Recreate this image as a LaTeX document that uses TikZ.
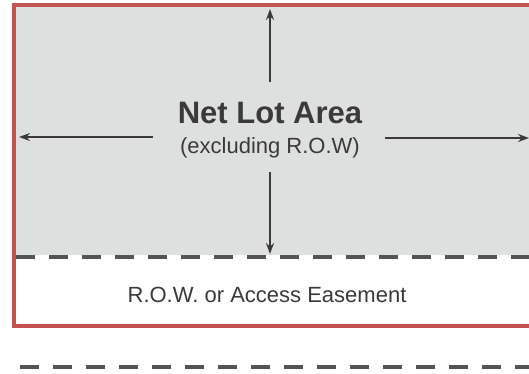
\documentclass[tikz,border=0pt]{standalone}
\usepackage{fontspec}
\setmainfont{Liberation Sans}
\usepackage{xcolor}
\usetikzlibrary{positioning, arrows.meta}

\definecolor{lotred}{RGB}{196,82,78}
\definecolor{lotgray}{RGB}{222,224,224}
\definecolor{inkgray}{RGB}{58,58,58}
\definecolor{dashgray}{RGB}{84,84,84}

\begin{document}
\begin{tikzpicture}[
x=1pt, y=-1pt,
every node/.style={align=center, text=inkgray, inner sep=0pt},
lot/.style={draw=lotred, line width=3.2pt, fill=white},
area/.style={fill=lotgray, draw=none},
edge/.style={dashgray, line width=4.5pt, dash pattern=on 19pt off 14pt},
arrow/.style={-{Stealth[length=11pt, width=8pt]}, line width=1.4pt, draw=inkgray}
]
\useasboundingbox (0,0) rectangle (529,374);
\clip (0,0) rectangle (529,374);

% ====== Lot ======
\draw[lot] (14,5) rectangle (545,326);
\fill[area] (16,7) rectangle (545,255);

% ====== Boundary lines ======
\draw[edge] (16,257) -- (545,257);
\draw[edge] (20,367) -- (545,367);

% ====== Labels ======
\node[font=\fontsize{31}{33}\selectfont\bfseries] (title) at (270,113) {Net Lot Area};
\node[font=\fontsize{22}{24}\selectfont, below=13pt of title] (subtitle) {(excluding R.O.W)};
\node[font=\fontsize{22}{24}\selectfont] (row) at (267,295) {R.O.W. or Access Easement};

% ====== Arrow ends ======
\coordinate (topin) at (270,82);
\coordinate (topend) at (270,9);
\coordinate (botin) at (270,172);
\coordinate (botend) at (270,254);
\coordinate (leftin) at (153,137);
\coordinate (leftend) at (19,137);
\coordinate (rightin) at (385,138);
\coordinate (rightend) at (529,138);

% ====== Connections ======
\draw[arrow] (topin) -- (topend);
\draw[arrow] (botin) -- (botend);
\draw[arrow] (leftin) -- (leftend);
\draw[arrow] (rightin) -- (rightend);

\end{tikzpicture}
\end{document}
